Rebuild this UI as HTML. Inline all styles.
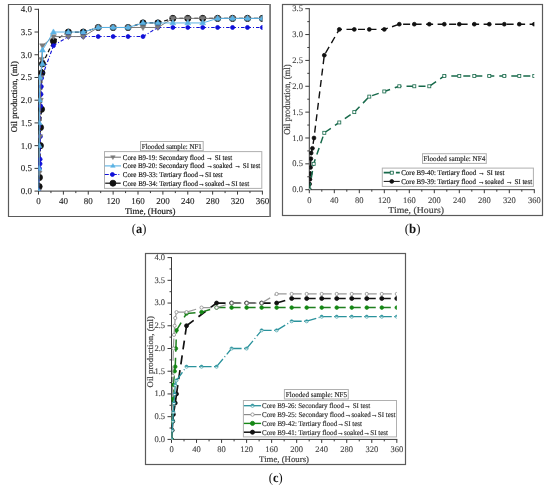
<!DOCTYPE html><html><head><meta charset="utf-8"><style>html,body{margin:0;padding:0;background:#fff;}body{width:550px;height:488px;overflow:hidden;}svg{display:block;font-family:"Liberation Serif", serif;filter:blur(0.3px);}text{text-rendering:geometricPrecision;}</style></head><body>
<svg width="550" height="488" viewBox="0 0 550 488">
<rect x="0" y="0" width="550" height="488" fill="#fff"/>
<path d="M270.1,4.5 H8.5 V216.5 H270.1" fill="none" stroke="#5a5a5a" stroke-width="1.2"/>
<line x1="270.1" y1="4" x2="270.1" y2="217" stroke="#7a7a7a" stroke-width="1.8"/>
<line x1="38.5" y1="8.8" x2="38.5" y2="191.6" stroke="#3a3a3a" stroke-width="1"/>
<line x1="38" y1="191.1" x2="262.9" y2="191.1" stroke="#3a3a3a" stroke-width="1"/>
<line x1="34.5" y1="191.1" x2="38.5" y2="191.1" stroke="#3a3a3a" stroke-width="1"/>
<text x="32.1" y="194" text-anchor="end" font-size="9" fill="#222" stroke="#222" stroke-width="0.1">0.0</text>
<line x1="34.5" y1="168.38" x2="38.5" y2="168.38" stroke="#3a3a3a" stroke-width="1"/>
<text x="32.1" y="171.28" text-anchor="end" font-size="9" fill="#222" stroke="#222" stroke-width="0.1">0.5</text>
<line x1="34.5" y1="145.65" x2="38.5" y2="145.65" stroke="#3a3a3a" stroke-width="1"/>
<text x="32.1" y="148.55" text-anchor="end" font-size="9" fill="#222" stroke="#222" stroke-width="0.1">1.0</text>
<line x1="34.5" y1="122.92" x2="38.5" y2="122.92" stroke="#3a3a3a" stroke-width="1"/>
<text x="32.1" y="125.83" text-anchor="end" font-size="9" fill="#222" stroke="#222" stroke-width="0.1">1.5</text>
<line x1="34.5" y1="100.2" x2="38.5" y2="100.2" stroke="#3a3a3a" stroke-width="1"/>
<text x="32.1" y="103.1" text-anchor="end" font-size="9" fill="#222" stroke="#222" stroke-width="0.1">2.0</text>
<line x1="34.5" y1="77.48" x2="38.5" y2="77.48" stroke="#3a3a3a" stroke-width="1"/>
<text x="32.1" y="80.38" text-anchor="end" font-size="9" fill="#222" stroke="#222" stroke-width="0.1">2.5</text>
<line x1="34.5" y1="54.75" x2="38.5" y2="54.75" stroke="#3a3a3a" stroke-width="1"/>
<text x="32.1" y="57.65" text-anchor="end" font-size="9" fill="#222" stroke="#222" stroke-width="0.1">3.0</text>
<line x1="34.5" y1="32.03" x2="38.5" y2="32.03" stroke="#3a3a3a" stroke-width="1"/>
<text x="32.1" y="34.93" text-anchor="end" font-size="9" fill="#222" stroke="#222" stroke-width="0.1">3.5</text>
<line x1="34.5" y1="9.3" x2="38.5" y2="9.3" stroke="#3a3a3a" stroke-width="1"/>
<text x="32.1" y="12.2" text-anchor="end" font-size="9" fill="#222" stroke="#222" stroke-width="0.1">4.0</text>
<line x1="38.5" y1="191.1" x2="38.5" y2="194.6" stroke="#3a3a3a" stroke-width="1"/>
<text x="38.5" y="203.8" text-anchor="middle" font-size="9" fill="#222" stroke="#222" stroke-width="0.1">0</text>
<line x1="50.94" y1="191.1" x2="50.94" y2="193.1" stroke="#3a3a3a" stroke-width="1"/>
<line x1="63.38" y1="191.1" x2="63.38" y2="194.6" stroke="#3a3a3a" stroke-width="1"/>
<text x="63.38" y="203.8" text-anchor="middle" font-size="9" fill="#222" stroke="#222" stroke-width="0.1">40</text>
<line x1="75.82" y1="191.1" x2="75.82" y2="193.1" stroke="#3a3a3a" stroke-width="1"/>
<line x1="88.26" y1="191.1" x2="88.26" y2="194.6" stroke="#3a3a3a" stroke-width="1"/>
<text x="88.26" y="203.8" text-anchor="middle" font-size="9" fill="#222" stroke="#222" stroke-width="0.1">80</text>
<line x1="100.69" y1="191.1" x2="100.69" y2="193.1" stroke="#3a3a3a" stroke-width="1"/>
<line x1="113.13" y1="191.1" x2="113.13" y2="194.6" stroke="#3a3a3a" stroke-width="1"/>
<text x="113.13" y="203.8" text-anchor="middle" font-size="9" fill="#222" stroke="#222" stroke-width="0.1">120</text>
<line x1="125.57" y1="191.1" x2="125.57" y2="193.1" stroke="#3a3a3a" stroke-width="1"/>
<line x1="138.01" y1="191.1" x2="138.01" y2="194.6" stroke="#3a3a3a" stroke-width="1"/>
<text x="138.01" y="203.8" text-anchor="middle" font-size="9" fill="#222" stroke="#222" stroke-width="0.1">160</text>
<line x1="150.45" y1="191.1" x2="150.45" y2="193.1" stroke="#3a3a3a" stroke-width="1"/>
<line x1="162.89" y1="191.1" x2="162.89" y2="194.6" stroke="#3a3a3a" stroke-width="1"/>
<text x="162.89" y="203.8" text-anchor="middle" font-size="9" fill="#222" stroke="#222" stroke-width="0.1">200</text>
<line x1="175.33" y1="191.1" x2="175.33" y2="193.1" stroke="#3a3a3a" stroke-width="1"/>
<line x1="187.77" y1="191.1" x2="187.77" y2="194.6" stroke="#3a3a3a" stroke-width="1"/>
<text x="187.77" y="203.8" text-anchor="middle" font-size="9" fill="#222" stroke="#222" stroke-width="0.1">240</text>
<line x1="200.21" y1="191.1" x2="200.21" y2="193.1" stroke="#3a3a3a" stroke-width="1"/>
<line x1="212.64" y1="191.1" x2="212.64" y2="194.6" stroke="#3a3a3a" stroke-width="1"/>
<text x="212.64" y="203.8" text-anchor="middle" font-size="9" fill="#222" stroke="#222" stroke-width="0.1">280</text>
<line x1="225.08" y1="191.1" x2="225.08" y2="193.1" stroke="#3a3a3a" stroke-width="1"/>
<line x1="237.52" y1="191.1" x2="237.52" y2="194.6" stroke="#3a3a3a" stroke-width="1"/>
<text x="237.52" y="203.8" text-anchor="middle" font-size="9" fill="#222" stroke="#222" stroke-width="0.1">320</text>
<line x1="249.96" y1="191.1" x2="249.96" y2="193.1" stroke="#3a3a3a" stroke-width="1"/>
<line x1="262.4" y1="191.1" x2="262.4" y2="194.6" stroke="#3a3a3a" stroke-width="1"/>
<text x="262.4" y="203.8" text-anchor="middle" font-size="9" fill="#222" stroke="#222" stroke-width="0.1">360</text>
<text x="16.9" y="96.7" text-anchor="middle" font-size="8.8" fill="#222" stroke="#222" stroke-width="0.2" textLength="71.1" lengthAdjust="spacingAndGlyphs" transform="rotate(-90 16.9 96.7)">Oil production, (ml)</text>
<text x="125" y="213.9" font-size="8.8" fill="#222" stroke="#222" stroke-width="0.2" textLength="50.4" lengthAdjust="spacingAndGlyphs">Time, (Hours)</text>
<clipPath id="ca"><rect x="38.5" y="3.3" width="223.9" height="187.8"/></clipPath>
<g clip-path="url(#ca)">
<path d="M39.12,186.56L39.43,177.47M39.43,177.47L40.37,145.65M40.37,145.65L40.49,127.47M40.49,127.47L41.49,109.29M41.49,109.29L41.92,72.93M41.92,72.93L42.48,63.84M42.48,63.84L53.43,41.12M53.43,41.12L68.35,32.03M68.35,32.03L83.28,32.03M83.28,32.03L98.21,27.48M98.21,27.48L113.13,27.48M113.13,27.48L128.06,27.48M128.06,27.48L142.99,22.94M142.99,22.94L157.91,22.94M157.91,22.94L172.84,18.39M172.84,18.39L187.77,18.39M187.77,18.39L202.69,18.39M202.69,18.39L217.62,18.39M217.62,18.39L232.55,18.39M232.55,18.39L247.47,18.39M247.47,18.39L262.4,18.39" fill="none" stroke="#111" stroke-width="1.2" stroke-dasharray="4,2.5"/>
<circle cx="39.12" cy="186.56" r="3.1" fill="#111" stroke="#111" stroke-width="0.8"/>
<circle cx="39.43" cy="177.47" r="3.1" fill="#111" stroke="#111" stroke-width="0.8"/>
<circle cx="40.37" cy="145.65" r="3.1" fill="#111" stroke="#111" stroke-width="0.8"/>
<circle cx="40.49" cy="127.47" r="3.1" fill="#111" stroke="#111" stroke-width="0.8"/>
<circle cx="41.49" cy="109.29" r="3.1" fill="#111" stroke="#111" stroke-width="0.8"/>
<circle cx="41.92" cy="72.93" r="3.1" fill="#111" stroke="#111" stroke-width="0.8"/>
<circle cx="42.48" cy="63.84" r="3.1" fill="#111" stroke="#111" stroke-width="0.8"/>
<circle cx="53.43" cy="41.12" r="3.1" fill="#111" stroke="#111" stroke-width="0.8"/>
<circle cx="68.35" cy="32.03" r="3.1" fill="#111" stroke="#111" stroke-width="0.8"/>
<circle cx="83.28" cy="32.03" r="3.1" fill="#111" stroke="#111" stroke-width="0.8"/>
<circle cx="98.21" cy="27.48" r="3.1" fill="#111" stroke="#111" stroke-width="0.8"/>
<circle cx="113.13" cy="27.48" r="3.1" fill="#111" stroke="#111" stroke-width="0.8"/>
<circle cx="128.06" cy="27.48" r="3.1" fill="#111" stroke="#111" stroke-width="0.8"/>
<circle cx="142.99" cy="22.94" r="3.1" fill="#111" stroke="#111" stroke-width="0.8"/>
<circle cx="157.91" cy="22.94" r="3.1" fill="#111" stroke="#111" stroke-width="0.8"/>
<circle cx="172.84" cy="18.39" r="3.1" fill="#111" stroke="#111" stroke-width="0.8"/>
<circle cx="187.77" cy="18.39" r="3.1" fill="#111" stroke="#111" stroke-width="0.8"/>
<circle cx="202.69" cy="18.39" r="3.1" fill="#111" stroke="#111" stroke-width="0.8"/>
<circle cx="217.62" cy="18.39" r="3.1" fill="#111" stroke="#111" stroke-width="0.8"/>
<circle cx="232.55" cy="18.39" r="3.1" fill="#111" stroke="#111" stroke-width="0.8"/>
<circle cx="247.47" cy="18.39" r="3.1" fill="#111" stroke="#111" stroke-width="0.8"/>
<circle cx="262.4" cy="18.39" r="3.1" fill="#111" stroke="#111" stroke-width="0.8"/>
<path d="M38.81,191.1L39.43,168.38M39.43,168.38L40.05,163.83M40.05,163.83L40.12,159.28M40.12,159.28L40.37,136.56M40.37,136.56L40.68,106.11M40.68,106.11L40.99,94.29M40.99,94.29L41.3,86.57M41.3,86.57L41.61,77.93M41.61,77.93L53.43,45.66M53.43,45.66L68.35,36.57M68.35,36.57L83.28,36.57M83.28,36.57L98.21,36.57M98.21,36.57L113.13,36.57M113.13,36.57L128.06,36.57M128.06,36.57L142.99,36.57M142.99,36.57L157.91,27.48M157.91,27.48L172.84,27.48M172.84,27.48L187.77,27.48M187.77,27.48L202.69,27.48M202.69,27.48L217.62,27.48M217.62,27.48L232.55,27.48M232.55,27.48L247.47,27.48M247.47,27.48L262.4,27.48" fill="none" stroke="#1010d8" stroke-width="1.1" stroke-dasharray="3.5,2,1,2"/>
<circle cx="38.81" cy="191.1" r="2" fill="#1010d8" stroke="#1010d8" stroke-width="0.8"/>
<circle cx="39.43" cy="168.38" r="2" fill="#1010d8" stroke="#1010d8" stroke-width="0.8"/>
<circle cx="40.05" cy="163.83" r="2" fill="#1010d8" stroke="#1010d8" stroke-width="0.8"/>
<circle cx="40.12" cy="159.28" r="2" fill="#1010d8" stroke="#1010d8" stroke-width="0.8"/>
<circle cx="40.37" cy="136.56" r="2" fill="#1010d8" stroke="#1010d8" stroke-width="0.8"/>
<circle cx="40.68" cy="106.11" r="2" fill="#1010d8" stroke="#1010d8" stroke-width="0.8"/>
<circle cx="40.99" cy="94.29" r="2" fill="#1010d8" stroke="#1010d8" stroke-width="0.8"/>
<circle cx="41.3" cy="86.57" r="2" fill="#1010d8" stroke="#1010d8" stroke-width="0.8"/>
<circle cx="41.61" cy="77.93" r="2" fill="#1010d8" stroke="#1010d8" stroke-width="0.8"/>
<circle cx="53.43" cy="45.66" r="2" fill="#1010d8" stroke="#1010d8" stroke-width="0.8"/>
<circle cx="68.35" cy="36.57" r="2" fill="#1010d8" stroke="#1010d8" stroke-width="0.8"/>
<circle cx="83.28" cy="36.57" r="2" fill="#1010d8" stroke="#1010d8" stroke-width="0.8"/>
<circle cx="98.21" cy="36.57" r="2" fill="#1010d8" stroke="#1010d8" stroke-width="0.8"/>
<circle cx="113.13" cy="36.57" r="2" fill="#1010d8" stroke="#1010d8" stroke-width="0.8"/>
<circle cx="128.06" cy="36.57" r="2" fill="#1010d8" stroke="#1010d8" stroke-width="0.8"/>
<circle cx="142.99" cy="36.57" r="2" fill="#1010d8" stroke="#1010d8" stroke-width="0.8"/>
<circle cx="157.91" cy="27.48" r="2" fill="#1010d8" stroke="#1010d8" stroke-width="0.8"/>
<circle cx="172.84" cy="27.48" r="2" fill="#1010d8" stroke="#1010d8" stroke-width="0.8"/>
<circle cx="187.77" cy="27.48" r="2" fill="#1010d8" stroke="#1010d8" stroke-width="0.8"/>
<circle cx="202.69" cy="27.48" r="2" fill="#1010d8" stroke="#1010d8" stroke-width="0.8"/>
<circle cx="217.62" cy="27.48" r="2" fill="#1010d8" stroke="#1010d8" stroke-width="0.8"/>
<circle cx="232.55" cy="27.48" r="2" fill="#1010d8" stroke="#1010d8" stroke-width="0.8"/>
<circle cx="247.47" cy="27.48" r="2" fill="#1010d8" stroke="#1010d8" stroke-width="0.8"/>
<circle cx="262.4" cy="27.48" r="2" fill="#1010d8" stroke="#1010d8" stroke-width="0.8"/>
<polyline points="38.5,191.1 39.12,172.92 39.74,136.56 40.37,100.2 40.99,77.48 41.61,59.3 42.48,45.66 53.43,36.57 68.35,36.57 83.28,36.57 98.21,27.48 113.13,27.48 128.06,27.48 142.99,27.48 157.91,27.48 172.84,18.39 187.77,18.39 202.69,18.39 217.62,18.39 232.55,18.39 247.47,18.39 262.4,18.39" fill="none" stroke="#7a7a7a" stroke-width="1.0" stroke-linejoin="round"/>
<polygon points="38.5,194.2 35.55,189.24 41.45,189.24" fill="#7a7a7a" stroke="#7a7a7a" stroke-width="0.5"/>
<polygon points="39.12,176.02 36.18,171.06 42.07,171.06" fill="#7a7a7a" stroke="#7a7a7a" stroke-width="0.5"/>
<polygon points="39.74,139.66 36.8,134.7 42.69,134.7" fill="#7a7a7a" stroke="#7a7a7a" stroke-width="0.5"/>
<polygon points="40.37,103.3 37.42,98.34 43.31,98.34" fill="#7a7a7a" stroke="#7a7a7a" stroke-width="0.5"/>
<polygon points="40.99,80.58 38.04,75.62 43.93,75.62" fill="#7a7a7a" stroke="#7a7a7a" stroke-width="0.5"/>
<polygon points="41.61,62.4 38.66,57.44 44.55,57.44" fill="#7a7a7a" stroke="#7a7a7a" stroke-width="0.5"/>
<polygon points="42.48,48.76 39.54,43.8 45.43,43.8" fill="#7a7a7a" stroke="#7a7a7a" stroke-width="0.5"/>
<polygon points="53.43,39.67 50.48,34.71 56.37,34.71" fill="#7a7a7a" stroke="#7a7a7a" stroke-width="0.5"/>
<polygon points="68.35,39.67 65.41,34.71 71.3,34.71" fill="#7a7a7a" stroke="#7a7a7a" stroke-width="0.5"/>
<polygon points="83.28,39.67 80.34,34.71 86.22,34.71" fill="#7a7a7a" stroke="#7a7a7a" stroke-width="0.5"/>
<polygon points="98.21,30.58 95.26,25.62 101.15,25.62" fill="#7a7a7a" stroke="#7a7a7a" stroke-width="0.5"/>
<polygon points="113.13,30.58 110.19,25.62 116.08,25.62" fill="#7a7a7a" stroke="#7a7a7a" stroke-width="0.5"/>
<polygon points="128.06,30.58 125.12,25.62 131,25.62" fill="#7a7a7a" stroke="#7a7a7a" stroke-width="0.5"/>
<polygon points="142.99,30.58 140.04,25.62 145.93,25.62" fill="#7a7a7a" stroke="#7a7a7a" stroke-width="0.5"/>
<polygon points="157.91,30.58 154.97,25.62 160.86,25.62" fill="#7a7a7a" stroke="#7a7a7a" stroke-width="0.5"/>
<polygon points="172.84,21.49 169.89,16.53 175.78,16.53" fill="#7a7a7a" stroke="#7a7a7a" stroke-width="0.5"/>
<polygon points="187.77,21.49 184.82,16.53 190.71,16.53" fill="#7a7a7a" stroke="#7a7a7a" stroke-width="0.5"/>
<polygon points="202.69,21.49 199.75,16.53 205.64,16.53" fill="#7a7a7a" stroke="#7a7a7a" stroke-width="0.5"/>
<polygon points="217.62,21.49 214.68,16.53 220.56,16.53" fill="#7a7a7a" stroke="#7a7a7a" stroke-width="0.5"/>
<polygon points="232.55,21.49 229.6,16.53 235.49,16.53" fill="#7a7a7a" stroke="#7a7a7a" stroke-width="0.5"/>
<polygon points="247.47,21.49 244.53,16.53 250.42,16.53" fill="#7a7a7a" stroke="#7a7a7a" stroke-width="0.5"/>
<polygon points="262.4,21.49 259.45,16.53 265.34,16.53" fill="#7a7a7a" stroke="#7a7a7a" stroke-width="0.5"/>
<polyline points="38.5,191.1 39,168.38 39.12,145.65 39.25,122.92 39.43,100.2 39.87,77.48 42.48,63.84 42.48,50.21 53.43,32.03 68.35,32.03 83.28,32.03 98.21,27.48 113.13,27.48 128.06,27.48 142.99,22.94 157.91,22.94 172.84,22.94 187.77,22.94 202.69,22.94 217.62,18.39 232.55,18.39 247.47,18.39 262.4,18.39" fill="none" stroke="#5ab2e4" stroke-width="1.0" stroke-linejoin="round"/>
<polygon points="38.5,188 35.55,192.96 41.45,192.96" fill="#5ab2e4" stroke="#5ab2e4" stroke-width="0.5"/>
<polygon points="39,165.28 36.05,170.24 41.94,170.24" fill="#5ab2e4" stroke="#5ab2e4" stroke-width="0.5"/>
<polygon points="39.12,142.55 36.18,147.51 42.07,147.51" fill="#5ab2e4" stroke="#5ab2e4" stroke-width="0.5"/>
<polygon points="39.25,119.83 36.3,124.78 42.19,124.78" fill="#5ab2e4" stroke="#5ab2e4" stroke-width="0.5"/>
<polygon points="39.43,97.1 36.49,102.06 42.38,102.06" fill="#5ab2e4" stroke="#5ab2e4" stroke-width="0.5"/>
<polygon points="39.87,74.38 36.92,79.34 42.81,79.34" fill="#5ab2e4" stroke="#5ab2e4" stroke-width="0.5"/>
<polygon points="42.48,60.74 39.54,65.7 45.43,65.7" fill="#5ab2e4" stroke="#5ab2e4" stroke-width="0.5"/>
<polygon points="42.48,47.11 39.54,52.07 45.43,52.07" fill="#5ab2e4" stroke="#5ab2e4" stroke-width="0.5"/>
<polygon points="53.43,28.93 50.48,33.89 56.37,33.89" fill="#5ab2e4" stroke="#5ab2e4" stroke-width="0.5"/>
<polygon points="68.35,28.93 65.41,33.89 71.3,33.89" fill="#5ab2e4" stroke="#5ab2e4" stroke-width="0.5"/>
<polygon points="83.28,28.93 80.34,33.89 86.22,33.89" fill="#5ab2e4" stroke="#5ab2e4" stroke-width="0.5"/>
<polygon points="98.21,24.38 95.26,29.34 101.15,29.34" fill="#5ab2e4" stroke="#5ab2e4" stroke-width="0.5"/>
<polygon points="113.13,24.38 110.19,29.34 116.08,29.34" fill="#5ab2e4" stroke="#5ab2e4" stroke-width="0.5"/>
<polygon points="128.06,24.38 125.12,29.34 131,29.34" fill="#5ab2e4" stroke="#5ab2e4" stroke-width="0.5"/>
<polygon points="142.99,19.84 140.04,24.8 145.93,24.8" fill="#5ab2e4" stroke="#5ab2e4" stroke-width="0.5"/>
<polygon points="157.91,19.84 154.97,24.8 160.86,24.8" fill="#5ab2e4" stroke="#5ab2e4" stroke-width="0.5"/>
<polygon points="172.84,19.84 169.89,24.8 175.78,24.8" fill="#5ab2e4" stroke="#5ab2e4" stroke-width="0.5"/>
<polygon points="187.77,19.84 184.82,24.8 190.71,24.8" fill="#5ab2e4" stroke="#5ab2e4" stroke-width="0.5"/>
<polygon points="202.69,19.84 199.75,24.8 205.64,24.8" fill="#5ab2e4" stroke="#5ab2e4" stroke-width="0.5"/>
<polygon points="217.62,15.29 214.68,20.25 220.56,20.25" fill="#5ab2e4" stroke="#5ab2e4" stroke-width="0.5"/>
<polygon points="232.55,15.29 229.6,20.25 235.49,20.25" fill="#5ab2e4" stroke="#5ab2e4" stroke-width="0.5"/>
<polygon points="247.47,15.29 244.53,20.25 250.42,20.25" fill="#5ab2e4" stroke="#5ab2e4" stroke-width="0.5"/>
<polygon points="262.4,15.29 259.45,20.25 265.34,20.25" fill="#5ab2e4" stroke="#5ab2e4" stroke-width="0.5"/>
</g>
<rect x="140.5" y="141.5" width="62.7" height="9.2" fill="#fff" stroke="#b0b0b0" stroke-width="1"/>
<text x="141.8" y="148.6" font-size="7.4" fill="#222" stroke="#222" stroke-width="0.15" textLength="60" lengthAdjust="spacingAndGlyphs">Flooded sample: NF1</text>
<rect x="104.5" y="151.6" width="157.3" height="36.8" fill="#fff" stroke="#b0b0b0" stroke-width="1"/>
<line x1="104.8" y1="157.2" x2="121" y2="157.2" stroke="#7a7a7a" stroke-width="1.1"/>
<polygon points="112.9,159.6 110.62,155.76 115.18,155.76" fill="#7a7a7a" stroke="#7a7a7a" stroke-width="0.5"/>
<text x="122.8" y="159.5" font-size="7.3" fill="#222" stroke="#222" stroke-width="0.18" textLength="109.4" lengthAdjust="spacingAndGlyphs">Core B9-19: Secondary flood → SI test</text>
<line x1="104.8" y1="165.9" x2="121" y2="165.9" stroke="#5ab2e4" stroke-width="1.1"/>
<polygon points="112.9,163.5 110.62,167.34 115.18,167.34" fill="#5ab2e4" stroke="#5ab2e4" stroke-width="0.5"/>
<text x="122.8" y="168.2" font-size="7.3" fill="#222" stroke="#222" stroke-width="0.18" textLength="137.5" lengthAdjust="spacingAndGlyphs">Core B9-20: Secondary flood →soaked → SI test</text>
<line x1="104.8" y1="174.5" x2="120" y2="174.5" stroke="#1010d8" stroke-width="1.1" stroke-dasharray="4,1.5,1,1.5"/>
<circle cx="112.4" cy="174.5" r="2" fill="#1010d8" stroke="#1010d8" stroke-width="0.8"/>
<text x="122.8" y="176.8" font-size="7.3" fill="#222" stroke="#222" stroke-width="0.18" textLength="100" lengthAdjust="spacingAndGlyphs">Core B9-33: Tertiary flood→SI test</text>
<line x1="105.2" y1="183.2" x2="120.7" y2="183.2" stroke="#111" stroke-width="1.2"/>
<circle cx="112.95" cy="183.2" r="3" fill="#111" stroke="#111" stroke-width="0.8"/>
<text x="122.8" y="185.5" font-size="7.3" fill="#222" stroke="#222" stroke-width="0.18" textLength="126.3" lengthAdjust="spacingAndGlyphs">Core B9-34: Tertiary flood→soaked→SI test</text>
<text x="131.8" y="232.8" font-size="13.5" fill="#111" textLength="14.5" lengthAdjust="spacingAndGlyphs">(<tspan font-weight="bold">a</tspan>)</text>
<rect x="282.5" y="4.5" width="260" height="211" fill="none" stroke="#5a5a5a" stroke-width="1.2"/>
<line x1="309.3" y1="8.2" x2="309.3" y2="190.2" stroke="#3a3a3a" stroke-width="1"/>
<line x1="308.8" y1="189.7" x2="534.8" y2="189.7" stroke="#3a3a3a" stroke-width="1"/>
<line x1="305.3" y1="189.7" x2="309.3" y2="189.7" stroke="#3a3a3a" stroke-width="1"/>
<text x="302.9" y="192.3" text-anchor="end" font-size="8.5" fill="#444" stroke="#444" stroke-width="0.12">0.0</text>
<line x1="307.3" y1="176.77" x2="309.3" y2="176.77" stroke="#3a3a3a" stroke-width="1"/>
<line x1="305.3" y1="163.84" x2="309.3" y2="163.84" stroke="#3a3a3a" stroke-width="1"/>
<text x="302.9" y="166.44" text-anchor="end" font-size="8.5" fill="#444" stroke="#444" stroke-width="0.12">0.5</text>
<line x1="307.3" y1="150.91" x2="309.3" y2="150.91" stroke="#3a3a3a" stroke-width="1"/>
<line x1="305.3" y1="137.99" x2="309.3" y2="137.99" stroke="#3a3a3a" stroke-width="1"/>
<text x="302.9" y="140.59" text-anchor="end" font-size="8.5" fill="#444" stroke="#444" stroke-width="0.12">1.0</text>
<line x1="307.3" y1="125.06" x2="309.3" y2="125.06" stroke="#3a3a3a" stroke-width="1"/>
<line x1="305.3" y1="112.13" x2="309.3" y2="112.13" stroke="#3a3a3a" stroke-width="1"/>
<text x="302.9" y="114.73" text-anchor="end" font-size="8.5" fill="#444" stroke="#444" stroke-width="0.12">1.5</text>
<line x1="307.3" y1="99.2" x2="309.3" y2="99.2" stroke="#3a3a3a" stroke-width="1"/>
<line x1="305.3" y1="86.27" x2="309.3" y2="86.27" stroke="#3a3a3a" stroke-width="1"/>
<text x="302.9" y="88.87" text-anchor="end" font-size="8.5" fill="#444" stroke="#444" stroke-width="0.12">2.0</text>
<line x1="307.3" y1="73.34" x2="309.3" y2="73.34" stroke="#3a3a3a" stroke-width="1"/>
<line x1="305.3" y1="60.41" x2="309.3" y2="60.41" stroke="#3a3a3a" stroke-width="1"/>
<text x="302.9" y="63.01" text-anchor="end" font-size="8.5" fill="#444" stroke="#444" stroke-width="0.12">2.5</text>
<line x1="307.3" y1="47.49" x2="309.3" y2="47.49" stroke="#3a3a3a" stroke-width="1"/>
<line x1="305.3" y1="34.56" x2="309.3" y2="34.56" stroke="#3a3a3a" stroke-width="1"/>
<text x="302.9" y="37.16" text-anchor="end" font-size="8.5" fill="#444" stroke="#444" stroke-width="0.12">3.0</text>
<line x1="307.3" y1="21.63" x2="309.3" y2="21.63" stroke="#3a3a3a" stroke-width="1"/>
<line x1="305.3" y1="8.7" x2="309.3" y2="8.7" stroke="#3a3a3a" stroke-width="1"/>
<text x="302.9" y="11.3" text-anchor="end" font-size="8.5" fill="#444" stroke="#444" stroke-width="0.12">3.5</text>
<line x1="309.3" y1="189.7" x2="309.3" y2="193.2" stroke="#3a3a3a" stroke-width="1"/>
<text x="309.3" y="202.6" text-anchor="middle" font-size="8.5" fill="#444" stroke="#444" stroke-width="0.12">0</text>
<line x1="321.8" y1="189.7" x2="321.8" y2="191.7" stroke="#3a3a3a" stroke-width="1"/>
<line x1="334.3" y1="189.7" x2="334.3" y2="193.2" stroke="#3a3a3a" stroke-width="1"/>
<text x="334.3" y="202.6" text-anchor="middle" font-size="8.5" fill="#444" stroke="#444" stroke-width="0.12">40</text>
<line x1="346.8" y1="189.7" x2="346.8" y2="191.7" stroke="#3a3a3a" stroke-width="1"/>
<line x1="359.3" y1="189.7" x2="359.3" y2="193.2" stroke="#3a3a3a" stroke-width="1"/>
<text x="359.3" y="202.6" text-anchor="middle" font-size="8.5" fill="#444" stroke="#444" stroke-width="0.12">80</text>
<line x1="371.8" y1="189.7" x2="371.8" y2="191.7" stroke="#3a3a3a" stroke-width="1"/>
<line x1="384.3" y1="189.7" x2="384.3" y2="193.2" stroke="#3a3a3a" stroke-width="1"/>
<text x="384.3" y="202.6" text-anchor="middle" font-size="8.5" fill="#444" stroke="#444" stroke-width="0.12">120</text>
<line x1="396.8" y1="189.7" x2="396.8" y2="191.7" stroke="#3a3a3a" stroke-width="1"/>
<line x1="409.3" y1="189.7" x2="409.3" y2="193.2" stroke="#3a3a3a" stroke-width="1"/>
<text x="409.3" y="202.6" text-anchor="middle" font-size="8.5" fill="#444" stroke="#444" stroke-width="0.12">160</text>
<line x1="421.8" y1="189.7" x2="421.8" y2="191.7" stroke="#3a3a3a" stroke-width="1"/>
<line x1="434.3" y1="189.7" x2="434.3" y2="193.2" stroke="#3a3a3a" stroke-width="1"/>
<text x="434.3" y="202.6" text-anchor="middle" font-size="8.5" fill="#444" stroke="#444" stroke-width="0.12">200</text>
<line x1="446.8" y1="189.7" x2="446.8" y2="191.7" stroke="#3a3a3a" stroke-width="1"/>
<line x1="459.3" y1="189.7" x2="459.3" y2="193.2" stroke="#3a3a3a" stroke-width="1"/>
<text x="459.3" y="202.6" text-anchor="middle" font-size="8.5" fill="#444" stroke="#444" stroke-width="0.12">240</text>
<line x1="471.8" y1="189.7" x2="471.8" y2="191.7" stroke="#3a3a3a" stroke-width="1"/>
<line x1="484.3" y1="189.7" x2="484.3" y2="193.2" stroke="#3a3a3a" stroke-width="1"/>
<text x="484.3" y="202.6" text-anchor="middle" font-size="8.5" fill="#444" stroke="#444" stroke-width="0.12">280</text>
<line x1="496.8" y1="189.7" x2="496.8" y2="191.7" stroke="#3a3a3a" stroke-width="1"/>
<line x1="509.3" y1="189.7" x2="509.3" y2="193.2" stroke="#3a3a3a" stroke-width="1"/>
<text x="509.3" y="202.6" text-anchor="middle" font-size="8.5" fill="#444" stroke="#444" stroke-width="0.12">320</text>
<line x1="521.8" y1="189.7" x2="521.8" y2="191.7" stroke="#3a3a3a" stroke-width="1"/>
<line x1="534.3" y1="189.7" x2="534.3" y2="193.2" stroke="#3a3a3a" stroke-width="1"/>
<text x="534.3" y="202.6" text-anchor="middle" font-size="8.5" fill="#444" stroke="#444" stroke-width="0.12">360</text>
<text x="289.8" y="99.5" text-anchor="middle" font-size="9.2" fill="#444" stroke="#444" stroke-width="0.2" textLength="70.4" lengthAdjust="spacingAndGlyphs" transform="rotate(-90 289.8 99.5)">Oil production, (ml)</text>
<text x="388.3" y="212.7" font-size="9.2" fill="#444" stroke="#444" stroke-width="0.2" textLength="55.7" lengthAdjust="spacingAndGlyphs">Time, (Hours)</text>
<clipPath id="cb"><rect x="309.3" y="2.7" width="225" height="187"/></clipPath>
<g clip-path="url(#cb)">
<polyline points="309.3,189.7 309.61,184.01 309.93,179.36 310.24,173.67 310.55,167.46 310.86,158.67 311.18,152.98 312.43,148.33 313.99,137.99 324.3,55.24 339.3,29.39 354.3,29.39 369.3,29.39 384.3,29.39 399.3,24.21 414.3,24.21 429.3,24.21 444.3,24.21 459.3,24.21 474.3,24.21 489.3,24.21 504.3,24.21 519.3,24.21 534.3,24.21" fill="none" stroke="#111" stroke-width="1.4" stroke-dasharray="7,4.5" stroke-linejoin="round"/>
<circle cx="309.3" cy="189.7" r="1.9" fill="#111" stroke="#111" stroke-width="0.8"/>
<circle cx="309.61" cy="184.01" r="1.9" fill="#111" stroke="#111" stroke-width="0.8"/>
<circle cx="309.93" cy="179.36" r="1.9" fill="#111" stroke="#111" stroke-width="0.8"/>
<circle cx="310.24" cy="173.67" r="1.9" fill="#111" stroke="#111" stroke-width="0.8"/>
<circle cx="310.55" cy="167.46" r="1.9" fill="#111" stroke="#111" stroke-width="0.8"/>
<circle cx="310.86" cy="158.67" r="1.9" fill="#111" stroke="#111" stroke-width="0.8"/>
<circle cx="311.18" cy="152.98" r="1.9" fill="#111" stroke="#111" stroke-width="0.8"/>
<circle cx="312.43" cy="148.33" r="1.9" fill="#111" stroke="#111" stroke-width="0.8"/>
<circle cx="313.99" cy="137.99" r="1.9" fill="#111" stroke="#111" stroke-width="0.8"/>
<circle cx="324.3" cy="55.24" r="1.9" fill="#111" stroke="#111" stroke-width="0.8"/>
<circle cx="339.3" cy="29.39" r="1.9" fill="#111" stroke="#111" stroke-width="0.8"/>
<circle cx="354.3" cy="29.39" r="1.9" fill="#111" stroke="#111" stroke-width="0.8"/>
<circle cx="369.3" cy="29.39" r="1.9" fill="#111" stroke="#111" stroke-width="0.8"/>
<circle cx="384.3" cy="29.39" r="1.9" fill="#111" stroke="#111" stroke-width="0.8"/>
<circle cx="399.3" cy="24.21" r="1.9" fill="#111" stroke="#111" stroke-width="0.8"/>
<circle cx="414.3" cy="24.21" r="1.9" fill="#111" stroke="#111" stroke-width="0.8"/>
<circle cx="429.3" cy="24.21" r="1.9" fill="#111" stroke="#111" stroke-width="0.8"/>
<circle cx="444.3" cy="24.21" r="1.9" fill="#111" stroke="#111" stroke-width="0.8"/>
<circle cx="459.3" cy="24.21" r="1.9" fill="#111" stroke="#111" stroke-width="0.8"/>
<circle cx="474.3" cy="24.21" r="1.9" fill="#111" stroke="#111" stroke-width="0.8"/>
<circle cx="489.3" cy="24.21" r="1.9" fill="#111" stroke="#111" stroke-width="0.8"/>
<circle cx="504.3" cy="24.21" r="1.9" fill="#111" stroke="#111" stroke-width="0.8"/>
<circle cx="519.3" cy="24.21" r="1.9" fill="#111" stroke="#111" stroke-width="0.8"/>
<circle cx="534.3" cy="24.21" r="1.9" fill="#111" stroke="#111" stroke-width="0.8"/>
<polyline points="309.3,189.7 313.68,163.84 324.3,132.81 339.3,122.47 354.3,112.13 369.3,96.61 384.3,91.44 399.3,86.27 414.3,86.27 429.3,86.27 444.3,75.93 459.3,75.93 474.3,75.93 489.3,75.93 504.3,75.93 519.3,75.93 534.3,75.93" fill="none" stroke="#17694a" stroke-width="1.5" stroke-dasharray="7,5" stroke-linejoin="round"/>
<rect x="307.8" y="188.2" width="3" height="3" fill="#fff" stroke="#17694a" stroke-width="0.8"/>
<rect x="312.18" y="162.34" width="3" height="3" fill="#fff" stroke="#17694a" stroke-width="0.8"/>
<rect x="322.8" y="131.31" width="3" height="3" fill="#fff" stroke="#17694a" stroke-width="0.8"/>
<rect x="337.8" y="120.97" width="3" height="3" fill="#fff" stroke="#17694a" stroke-width="0.8"/>
<rect x="352.8" y="110.63" width="3" height="3" fill="#fff" stroke="#17694a" stroke-width="0.8"/>
<rect x="367.8" y="95.11" width="3" height="3" fill="#fff" stroke="#17694a" stroke-width="0.8"/>
<rect x="382.8" y="89.94" width="3" height="3" fill="#fff" stroke="#17694a" stroke-width="0.8"/>
<rect x="397.8" y="84.77" width="3" height="3" fill="#fff" stroke="#17694a" stroke-width="0.8"/>
<rect x="412.8" y="84.77" width="3" height="3" fill="#fff" stroke="#17694a" stroke-width="0.8"/>
<rect x="427.8" y="84.77" width="3" height="3" fill="#fff" stroke="#17694a" stroke-width="0.8"/>
<rect x="442.8" y="74.43" width="3" height="3" fill="#fff" stroke="#17694a" stroke-width="0.8"/>
<rect x="457.8" y="74.43" width="3" height="3" fill="#fff" stroke="#17694a" stroke-width="0.8"/>
<rect x="472.8" y="74.43" width="3" height="3" fill="#fff" stroke="#17694a" stroke-width="0.8"/>
<rect x="487.8" y="74.43" width="3" height="3" fill="#fff" stroke="#17694a" stroke-width="0.8"/>
<rect x="502.8" y="74.43" width="3" height="3" fill="#fff" stroke="#17694a" stroke-width="0.8"/>
<rect x="517.8" y="74.43" width="3" height="3" fill="#fff" stroke="#17694a" stroke-width="0.8"/>
<rect x="532.8" y="74.43" width="3" height="3" fill="#fff" stroke="#17694a" stroke-width="0.8"/>
</g>
<rect x="422.5" y="153.7" width="63.8" height="9.7" fill="#fff" stroke="#b0b0b0" stroke-width="1"/>
<text x="423.6" y="160.9" font-size="7.4" fill="#222" stroke="#222" stroke-width="0.15" textLength="61.7" lengthAdjust="spacingAndGlyphs">Flooded sample: NF4</text>
<rect x="382.3" y="168.1" width="151.1" height="18.3" fill="#fff" stroke="#b0b0b0" stroke-width="1"/>
<line x1="383.7" y1="172.7" x2="399.8" y2="172.7" stroke="#17694a" stroke-width="1.8" stroke-dasharray="10,2.2,4,1"/>
<rect x="390.25" y="171.2" width="3" height="3" fill="#fff" stroke="#17694a" stroke-width="0.8"/>
<text x="401.2" y="175" font-size="7.3" fill="#222" stroke="#222" stroke-width="0.18" textLength="103.2" lengthAdjust="spacingAndGlyphs">Core B9-40: Tertiary flood → SI test</text>
<line x1="383.7" y1="181.4" x2="399.8" y2="181.4" stroke="#111" stroke-width="1.0"/>
<circle cx="391.75" cy="181.4" r="1.9" fill="#111" stroke="#111" stroke-width="0.8"/>
<text x="401.2" y="183.7" font-size="7.3" fill="#222" stroke="#222" stroke-width="0.18" textLength="130.9" lengthAdjust="spacingAndGlyphs">Core B9-39: Tertiary flood →soaked → SI test</text>
<text x="404.8" y="233" font-size="13.5" fill="#111" textLength="15.7" lengthAdjust="spacingAndGlyphs">(<tspan font-weight="bold">b</tspan>)</text>
<rect x="145.5" y="253.5" width="260" height="211" fill="none" stroke="#5a5a5a" stroke-width="1.2"/>
<line x1="171.5" y1="257.1" x2="171.5" y2="439.9" stroke="#3a3a3a" stroke-width="1"/>
<line x1="171" y1="439.4" x2="397.3" y2="439.4" stroke="#3a3a3a" stroke-width="1"/>
<line x1="167.5" y1="439.4" x2="171.5" y2="439.4" stroke="#3a3a3a" stroke-width="1"/>
<text x="165" y="441.8" text-anchor="end" font-size="8.5" fill="#444" stroke="#444" stroke-width="0.12">0.0</text>
<line x1="169.5" y1="428.04" x2="171.5" y2="428.04" stroke="#3a3a3a" stroke-width="1"/>
<line x1="167.5" y1="416.67" x2="171.5" y2="416.67" stroke="#3a3a3a" stroke-width="1"/>
<text x="165" y="419.07" text-anchor="end" font-size="8.5" fill="#444" stroke="#444" stroke-width="0.12">0.5</text>
<line x1="169.5" y1="405.31" x2="171.5" y2="405.31" stroke="#3a3a3a" stroke-width="1"/>
<line x1="167.5" y1="393.95" x2="171.5" y2="393.95" stroke="#3a3a3a" stroke-width="1"/>
<text x="165" y="396.35" text-anchor="end" font-size="8.5" fill="#444" stroke="#444" stroke-width="0.12">1.0</text>
<line x1="169.5" y1="382.59" x2="171.5" y2="382.59" stroke="#3a3a3a" stroke-width="1"/>
<line x1="167.5" y1="371.23" x2="171.5" y2="371.23" stroke="#3a3a3a" stroke-width="1"/>
<text x="165" y="373.62" text-anchor="end" font-size="8.5" fill="#444" stroke="#444" stroke-width="0.12">1.5</text>
<line x1="169.5" y1="359.86" x2="171.5" y2="359.86" stroke="#3a3a3a" stroke-width="1"/>
<line x1="167.5" y1="348.5" x2="171.5" y2="348.5" stroke="#3a3a3a" stroke-width="1"/>
<text x="165" y="350.9" text-anchor="end" font-size="8.5" fill="#444" stroke="#444" stroke-width="0.12">2.0</text>
<line x1="169.5" y1="337.14" x2="171.5" y2="337.14" stroke="#3a3a3a" stroke-width="1"/>
<line x1="167.5" y1="325.77" x2="171.5" y2="325.77" stroke="#3a3a3a" stroke-width="1"/>
<text x="165" y="328.17" text-anchor="end" font-size="8.5" fill="#444" stroke="#444" stroke-width="0.12">2.5</text>
<line x1="169.5" y1="314.41" x2="171.5" y2="314.41" stroke="#3a3a3a" stroke-width="1"/>
<line x1="167.5" y1="303.05" x2="171.5" y2="303.05" stroke="#3a3a3a" stroke-width="1"/>
<text x="165" y="305.45" text-anchor="end" font-size="8.5" fill="#444" stroke="#444" stroke-width="0.12">3.0</text>
<line x1="169.5" y1="291.69" x2="171.5" y2="291.69" stroke="#3a3a3a" stroke-width="1"/>
<line x1="167.5" y1="280.33" x2="171.5" y2="280.33" stroke="#3a3a3a" stroke-width="1"/>
<text x="165" y="282.73" text-anchor="end" font-size="8.5" fill="#444" stroke="#444" stroke-width="0.12">3.5</text>
<line x1="169.5" y1="268.96" x2="171.5" y2="268.96" stroke="#3a3a3a" stroke-width="1"/>
<line x1="167.5" y1="257.6" x2="171.5" y2="257.6" stroke="#3a3a3a" stroke-width="1"/>
<text x="165" y="260" text-anchor="end" font-size="8.5" fill="#444" stroke="#444" stroke-width="0.12">4.0</text>
<line x1="171.5" y1="439.4" x2="171.5" y2="442.9" stroke="#3a3a3a" stroke-width="1"/>
<text x="171.5" y="451.7" text-anchor="middle" font-size="8.5" fill="#444" stroke="#444" stroke-width="0.12">0</text>
<line x1="184.02" y1="439.4" x2="184.02" y2="441.4" stroke="#3a3a3a" stroke-width="1"/>
<line x1="196.53" y1="439.4" x2="196.53" y2="442.9" stroke="#3a3a3a" stroke-width="1"/>
<text x="196.53" y="451.7" text-anchor="middle" font-size="8.5" fill="#444" stroke="#444" stroke-width="0.12">40</text>
<line x1="209.05" y1="439.4" x2="209.05" y2="441.4" stroke="#3a3a3a" stroke-width="1"/>
<line x1="221.57" y1="439.4" x2="221.57" y2="442.9" stroke="#3a3a3a" stroke-width="1"/>
<text x="221.57" y="451.7" text-anchor="middle" font-size="8.5" fill="#444" stroke="#444" stroke-width="0.12">80</text>
<line x1="234.08" y1="439.4" x2="234.08" y2="441.4" stroke="#3a3a3a" stroke-width="1"/>
<line x1="246.6" y1="439.4" x2="246.6" y2="442.9" stroke="#3a3a3a" stroke-width="1"/>
<text x="246.6" y="451.7" text-anchor="middle" font-size="8.5" fill="#444" stroke="#444" stroke-width="0.12">120</text>
<line x1="259.12" y1="439.4" x2="259.12" y2="441.4" stroke="#3a3a3a" stroke-width="1"/>
<line x1="271.63" y1="439.4" x2="271.63" y2="442.9" stroke="#3a3a3a" stroke-width="1"/>
<text x="271.63" y="451.7" text-anchor="middle" font-size="8.5" fill="#444" stroke="#444" stroke-width="0.12">160</text>
<line x1="284.15" y1="439.4" x2="284.15" y2="441.4" stroke="#3a3a3a" stroke-width="1"/>
<line x1="296.67" y1="439.4" x2="296.67" y2="442.9" stroke="#3a3a3a" stroke-width="1"/>
<text x="296.67" y="451.7" text-anchor="middle" font-size="8.5" fill="#444" stroke="#444" stroke-width="0.12">200</text>
<line x1="309.18" y1="439.4" x2="309.18" y2="441.4" stroke="#3a3a3a" stroke-width="1"/>
<line x1="321.7" y1="439.4" x2="321.7" y2="442.9" stroke="#3a3a3a" stroke-width="1"/>
<text x="321.7" y="451.7" text-anchor="middle" font-size="8.5" fill="#444" stroke="#444" stroke-width="0.12">240</text>
<line x1="334.22" y1="439.4" x2="334.22" y2="441.4" stroke="#3a3a3a" stroke-width="1"/>
<line x1="346.73" y1="439.4" x2="346.73" y2="442.9" stroke="#3a3a3a" stroke-width="1"/>
<text x="346.73" y="451.7" text-anchor="middle" font-size="8.5" fill="#444" stroke="#444" stroke-width="0.12">280</text>
<line x1="359.25" y1="439.4" x2="359.25" y2="441.4" stroke="#3a3a3a" stroke-width="1"/>
<line x1="371.77" y1="439.4" x2="371.77" y2="442.9" stroke="#3a3a3a" stroke-width="1"/>
<text x="371.77" y="451.7" text-anchor="middle" font-size="8.5" fill="#444" stroke="#444" stroke-width="0.12">320</text>
<line x1="384.28" y1="439.4" x2="384.28" y2="441.4" stroke="#3a3a3a" stroke-width="1"/>
<line x1="396.8" y1="439.4" x2="396.8" y2="442.9" stroke="#3a3a3a" stroke-width="1"/>
<text x="396.8" y="451.7" text-anchor="middle" font-size="8.5" fill="#444" stroke="#444" stroke-width="0.12">360</text>
<text x="153" y="351.8" text-anchor="middle" font-size="8.6" fill="#444" stroke="#444" stroke-width="0.2" textLength="71.4" lengthAdjust="spacingAndGlyphs" transform="rotate(-90 153 351.8)">Oil production, (ml)</text>
<text x="259.1" y="461.5" font-size="8.6" fill="#444" stroke="#444" stroke-width="0.2" textLength="49.9" lengthAdjust="spacingAndGlyphs">Time, (Hours)</text>
<clipPath id="cc"><rect x="171.5" y="251.6" width="225.3" height="187.8"/></clipPath>
<g clip-path="url(#cc)">
<path d="M171.5,439.4L172.13,430.31M172.13,430.31L172.75,421.22M172.75,421.22L173.38,414.4M173.38,414.4L175.25,403.04M175.25,403.04L176.51,393.95M176.51,393.95L186.52,325.77M186.52,325.77L216.56,303.05M216.56,303.05L231.58,303.05M231.58,303.05L246.6,303.05M246.6,303.05L261.62,303.05M261.62,303.05L276.64,303.05M276.64,303.05L291.66,298.5M291.66,298.5L306.68,298.5M306.68,298.5L321.7,298.5M321.7,298.5L336.72,298.5M336.72,298.5L351.74,298.5M351.74,298.5L366.76,298.5M366.76,298.5L381.78,298.5M381.78,298.5L396.8,298.5" fill="none" stroke="#111" stroke-width="1.7" stroke-dasharray="9,6"/>
<circle cx="171.5" cy="439.4" r="2" fill="#111" stroke="#111" stroke-width="0.8"/>
<circle cx="172.13" cy="430.31" r="2" fill="#111" stroke="#111" stroke-width="0.8"/>
<circle cx="172.75" cy="421.22" r="2" fill="#111" stroke="#111" stroke-width="0.8"/>
<circle cx="173.38" cy="414.4" r="2" fill="#111" stroke="#111" stroke-width="0.8"/>
<circle cx="175.25" cy="403.04" r="2" fill="#111" stroke="#111" stroke-width="0.8"/>
<circle cx="176.51" cy="393.95" r="2" fill="#111" stroke="#111" stroke-width="0.8"/>
<circle cx="186.52" cy="325.77" r="2" fill="#111" stroke="#111" stroke-width="0.8"/>
<circle cx="216.56" cy="303.05" r="2" fill="#111" stroke="#111" stroke-width="0.8"/>
<circle cx="231.58" cy="303.05" r="2" fill="#111" stroke="#111" stroke-width="0.8"/>
<circle cx="246.6" cy="303.05" r="2" fill="#111" stroke="#111" stroke-width="0.8"/>
<circle cx="261.62" cy="303.05" r="2" fill="#111" stroke="#111" stroke-width="0.8"/>
<circle cx="276.64" cy="303.05" r="2" fill="#111" stroke="#111" stroke-width="0.8"/>
<circle cx="291.66" cy="298.5" r="2" fill="#111" stroke="#111" stroke-width="0.8"/>
<circle cx="306.68" cy="298.5" r="2" fill="#111" stroke="#111" stroke-width="0.8"/>
<circle cx="321.7" cy="298.5" r="2" fill="#111" stroke="#111" stroke-width="0.8"/>
<circle cx="336.72" cy="298.5" r="2" fill="#111" stroke="#111" stroke-width="0.8"/>
<circle cx="351.74" cy="298.5" r="2" fill="#111" stroke="#111" stroke-width="0.8"/>
<circle cx="366.76" cy="298.5" r="2" fill="#111" stroke="#111" stroke-width="0.8"/>
<circle cx="381.78" cy="298.5" r="2" fill="#111" stroke="#111" stroke-width="0.8"/>
<circle cx="396.8" cy="298.5" r="2" fill="#111" stroke="#111" stroke-width="0.8"/>
<path d="M171.5,439.4L172.13,421.22M172.13,421.22L172.75,398.5M172.75,398.5L173.38,384.86M173.38,384.86L174.63,371.23M174.63,371.23L175.25,366.68M175.25,366.68L175.88,348.5M175.88,348.5L176.51,330.32M176.51,330.32L186.52,313.5M186.52,313.5L201.54,312.14M201.54,312.14L216.56,307.6M216.56,307.6L231.58,307.6M231.58,307.6L246.6,307.6M246.6,307.6L261.62,307.6M261.62,307.6L276.64,307.6M276.64,307.6L291.66,307.6M291.66,307.6L306.68,307.6M306.68,307.6L321.7,307.6M321.7,307.6L336.72,307.6M336.72,307.6L351.74,307.6M351.74,307.6L366.76,307.6M366.76,307.6L381.78,307.6M381.78,307.6L396.8,307.6" fill="none" stroke="#1f7f1f" stroke-width="1.5" stroke-dasharray="9,6"/>
<circle cx="171.5" cy="439.4" r="1.8" fill="#158815" stroke="#158815" stroke-width="0.8"/>
<circle cx="172.13" cy="421.22" r="1.8" fill="#158815" stroke="#158815" stroke-width="0.8"/>
<circle cx="172.75" cy="398.5" r="1.8" fill="#158815" stroke="#158815" stroke-width="0.8"/>
<circle cx="173.38" cy="384.86" r="1.8" fill="#158815" stroke="#158815" stroke-width="0.8"/>
<circle cx="174.63" cy="371.23" r="1.8" fill="#158815" stroke="#158815" stroke-width="0.8"/>
<circle cx="175.25" cy="366.68" r="1.8" fill="#158815" stroke="#158815" stroke-width="0.8"/>
<circle cx="175.88" cy="348.5" r="1.8" fill="#158815" stroke="#158815" stroke-width="0.8"/>
<circle cx="176.51" cy="330.32" r="1.8" fill="#158815" stroke="#158815" stroke-width="0.8"/>
<circle cx="186.52" cy="313.5" r="1.8" fill="#158815" stroke="#158815" stroke-width="0.8"/>
<circle cx="201.54" cy="312.14" r="1.8" fill="#158815" stroke="#158815" stroke-width="0.8"/>
<circle cx="216.56" cy="307.6" r="1.8" fill="#158815" stroke="#158815" stroke-width="0.8"/>
<circle cx="231.58" cy="307.6" r="1.8" fill="#158815" stroke="#158815" stroke-width="0.8"/>
<circle cx="246.6" cy="307.6" r="1.8" fill="#158815" stroke="#158815" stroke-width="0.8"/>
<circle cx="261.62" cy="307.6" r="1.8" fill="#158815" stroke="#158815" stroke-width="0.8"/>
<circle cx="276.64" cy="307.6" r="1.8" fill="#158815" stroke="#158815" stroke-width="0.8"/>
<circle cx="291.66" cy="307.6" r="1.8" fill="#158815" stroke="#158815" stroke-width="0.8"/>
<circle cx="306.68" cy="307.6" r="1.8" fill="#158815" stroke="#158815" stroke-width="0.8"/>
<circle cx="321.7" cy="307.6" r="1.8" fill="#158815" stroke="#158815" stroke-width="0.8"/>
<circle cx="336.72" cy="307.6" r="1.8" fill="#158815" stroke="#158815" stroke-width="0.8"/>
<circle cx="351.74" cy="307.6" r="1.8" fill="#158815" stroke="#158815" stroke-width="0.8"/>
<circle cx="366.76" cy="307.6" r="1.8" fill="#158815" stroke="#158815" stroke-width="0.8"/>
<circle cx="381.78" cy="307.6" r="1.8" fill="#158815" stroke="#158815" stroke-width="0.8"/>
<circle cx="396.8" cy="307.6" r="1.8" fill="#158815" stroke="#158815" stroke-width="0.8"/>
<path d="M171.5,439.4L172.13,412.13M172.13,412.13L172.75,375.77M172.75,375.77L173.38,348.5M173.38,348.5L174,334.87M174,334.87L174.63,325.77M174.63,325.77L175.25,318.05M175.25,318.05L176.51,312.14M176.51,312.14L186.52,312.14M186.52,312.14L201.54,307.6M201.54,307.6L216.56,307.6M216.56,307.6L231.58,303.05M231.58,303.05L246.6,303.05M246.6,303.05L261.62,303.05M261.62,303.05L276.64,293.96M276.64,293.96L291.66,293.96M291.66,293.96L306.68,293.96M306.68,293.96L321.7,293.96M321.7,293.96L336.72,293.96M336.72,293.96L351.74,293.96M351.74,293.96L366.76,293.96M366.76,293.96L381.78,293.96M381.78,293.96L396.8,293.96" fill="none" stroke="#9a9a9a" stroke-width="1.2" stroke-dasharray="10,5"/>
<circle cx="171.5" cy="439.4" r="1.6" fill="#fff" stroke="#8a8a8a" stroke-width="0.8"/>
<circle cx="172.13" cy="412.13" r="1.6" fill="#fff" stroke="#8a8a8a" stroke-width="0.8"/>
<circle cx="172.75" cy="375.77" r="1.6" fill="#fff" stroke="#8a8a8a" stroke-width="0.8"/>
<circle cx="173.38" cy="348.5" r="1.6" fill="#fff" stroke="#8a8a8a" stroke-width="0.8"/>
<circle cx="174" cy="334.87" r="1.6" fill="#fff" stroke="#8a8a8a" stroke-width="0.8"/>
<circle cx="174.63" cy="325.77" r="1.6" fill="#fff" stroke="#8a8a8a" stroke-width="0.8"/>
<circle cx="175.25" cy="318.05" r="1.6" fill="#fff" stroke="#8a8a8a" stroke-width="0.8"/>
<circle cx="176.51" cy="312.14" r="1.6" fill="#fff" stroke="#8a8a8a" stroke-width="0.8"/>
<circle cx="186.52" cy="312.14" r="1.6" fill="#fff" stroke="#8a8a8a" stroke-width="0.8"/>
<circle cx="201.54" cy="307.6" r="1.6" fill="#fff" stroke="#8a8a8a" stroke-width="0.8"/>
<circle cx="216.56" cy="307.6" r="1.6" fill="#fff" stroke="#8a8a8a" stroke-width="0.8"/>
<circle cx="231.58" cy="303.05" r="1.6" fill="#fff" stroke="#8a8a8a" stroke-width="0.8"/>
<circle cx="246.6" cy="303.05" r="1.6" fill="#fff" stroke="#8a8a8a" stroke-width="0.8"/>
<circle cx="261.62" cy="303.05" r="1.6" fill="#fff" stroke="#8a8a8a" stroke-width="0.8"/>
<circle cx="276.64" cy="293.96" r="1.6" fill="#fff" stroke="#8a8a8a" stroke-width="0.8"/>
<circle cx="291.66" cy="293.96" r="1.6" fill="#fff" stroke="#8a8a8a" stroke-width="0.8"/>
<circle cx="306.68" cy="293.96" r="1.6" fill="#fff" stroke="#8a8a8a" stroke-width="0.8"/>
<circle cx="321.7" cy="293.96" r="1.6" fill="#fff" stroke="#8a8a8a" stroke-width="0.8"/>
<circle cx="336.72" cy="293.96" r="1.6" fill="#fff" stroke="#8a8a8a" stroke-width="0.8"/>
<circle cx="351.74" cy="293.96" r="1.6" fill="#fff" stroke="#8a8a8a" stroke-width="0.8"/>
<circle cx="366.76" cy="293.96" r="1.6" fill="#fff" stroke="#8a8a8a" stroke-width="0.8"/>
<circle cx="381.78" cy="293.96" r="1.6" fill="#fff" stroke="#8a8a8a" stroke-width="0.8"/>
<circle cx="396.8" cy="293.96" r="1.6" fill="#fff" stroke="#8a8a8a" stroke-width="0.8"/>
<path d="M171.5,439.4L172.13,430.31M172.13,430.31L172.75,421.22M172.75,421.22L173.38,412.13M173.38,412.13L174,403.04M174,403.04L174.63,393.95M174.63,393.95L175.25,384.86M175.25,384.86L176.51,380.31M176.51,380.31L186.52,366.68M186.52,366.68L201.54,366.68M201.54,366.68L216.56,366.68M216.56,366.68L231.58,348.5M231.58,348.5L246.6,348.5M246.6,348.5L261.62,330.32M261.62,330.32L276.64,330.32M276.64,330.32L291.66,321.23M291.66,321.23L306.68,321.23M306.68,321.23L321.7,316.69M321.7,316.69L336.72,316.69M336.72,316.69L351.74,316.69M351.74,316.69L366.76,316.69M366.76,316.69L381.78,316.69M381.78,316.69L396.8,316.69" fill="none" stroke="#2a929c" stroke-width="1.3" stroke-dasharray="10,2.5,1,2.5"/>
<circle cx="171.5" cy="439.4" r="1.6" fill="#eaf6f6" stroke="#2a929c" stroke-width="0.6"/><path d="M169.9,439.4 A1.6,1.6 0 0 1 173.1,439.4 Z" fill="#2a929c"/>
<circle cx="172.13" cy="430.31" r="1.6" fill="#eaf6f6" stroke="#2a929c" stroke-width="0.6"/><path d="M170.53,430.31 A1.6,1.6 0 0 1 173.73,430.31 Z" fill="#2a929c"/>
<circle cx="172.75" cy="421.22" r="1.6" fill="#eaf6f6" stroke="#2a929c" stroke-width="0.6"/><path d="M171.15,421.22 A1.6,1.6 0 0 1 174.35,421.22 Z" fill="#2a929c"/>
<circle cx="173.38" cy="412.13" r="1.6" fill="#eaf6f6" stroke="#2a929c" stroke-width="0.6"/><path d="M171.78,412.13 A1.6,1.6 0 0 1 174.98,412.13 Z" fill="#2a929c"/>
<circle cx="174" cy="403.04" r="1.6" fill="#eaf6f6" stroke="#2a929c" stroke-width="0.6"/><path d="M172.4,403.04 A1.6,1.6 0 0 1 175.6,403.04 Z" fill="#2a929c"/>
<circle cx="174.63" cy="393.95" r="1.6" fill="#eaf6f6" stroke="#2a929c" stroke-width="0.6"/><path d="M173.03,393.95 A1.6,1.6 0 0 1 176.23,393.95 Z" fill="#2a929c"/>
<circle cx="175.25" cy="384.86" r="1.6" fill="#eaf6f6" stroke="#2a929c" stroke-width="0.6"/><path d="M173.66,384.86 A1.6,1.6 0 0 1 176.85,384.86 Z" fill="#2a929c"/>
<circle cx="176.51" cy="380.31" r="1.6" fill="#eaf6f6" stroke="#2a929c" stroke-width="0.6"/><path d="M174.91,380.31 A1.6,1.6 0 0 1 178.11,380.31 Z" fill="#2a929c"/>
<circle cx="186.52" cy="366.68" r="1.6" fill="#eaf6f6" stroke="#2a929c" stroke-width="0.6"/><path d="M184.92,366.68 A1.6,1.6 0 0 1 188.12,366.68 Z" fill="#2a929c"/>
<circle cx="201.54" cy="366.68" r="1.6" fill="#eaf6f6" stroke="#2a929c" stroke-width="0.6"/><path d="M199.94,366.68 A1.6,1.6 0 0 1 203.14,366.68 Z" fill="#2a929c"/>
<circle cx="216.56" cy="366.68" r="1.6" fill="#eaf6f6" stroke="#2a929c" stroke-width="0.6"/><path d="M214.96,366.68 A1.6,1.6 0 0 1 218.16,366.68 Z" fill="#2a929c"/>
<circle cx="231.58" cy="348.5" r="1.6" fill="#eaf6f6" stroke="#2a929c" stroke-width="0.6"/><path d="M229.98,348.5 A1.6,1.6 0 0 1 233.18,348.5 Z" fill="#2a929c"/>
<circle cx="246.6" cy="348.5" r="1.6" fill="#eaf6f6" stroke="#2a929c" stroke-width="0.6"/><path d="M245,348.5 A1.6,1.6 0 0 1 248.2,348.5 Z" fill="#2a929c"/>
<circle cx="261.62" cy="330.32" r="1.6" fill="#eaf6f6" stroke="#2a929c" stroke-width="0.6"/><path d="M260.02,330.32 A1.6,1.6 0 0 1 263.22,330.32 Z" fill="#2a929c"/>
<circle cx="276.64" cy="330.32" r="1.6" fill="#eaf6f6" stroke="#2a929c" stroke-width="0.6"/><path d="M275.04,330.32 A1.6,1.6 0 0 1 278.24,330.32 Z" fill="#2a929c"/>
<circle cx="291.66" cy="321.23" r="1.6" fill="#eaf6f6" stroke="#2a929c" stroke-width="0.6"/><path d="M290.06,321.23 A1.6,1.6 0 0 1 293.26,321.23 Z" fill="#2a929c"/>
<circle cx="306.68" cy="321.23" r="1.6" fill="#eaf6f6" stroke="#2a929c" stroke-width="0.6"/><path d="M305.08,321.23 A1.6,1.6 0 0 1 308.28,321.23 Z" fill="#2a929c"/>
<circle cx="321.7" cy="316.69" r="1.6" fill="#eaf6f6" stroke="#2a929c" stroke-width="0.6"/><path d="M320.1,316.69 A1.6,1.6 0 0 1 323.3,316.69 Z" fill="#2a929c"/>
<circle cx="336.72" cy="316.69" r="1.6" fill="#eaf6f6" stroke="#2a929c" stroke-width="0.6"/><path d="M335.12,316.69 A1.6,1.6 0 0 1 338.32,316.69 Z" fill="#2a929c"/>
<circle cx="351.74" cy="316.69" r="1.6" fill="#eaf6f6" stroke="#2a929c" stroke-width="0.6"/><path d="M350.14,316.69 A1.6,1.6 0 0 1 353.34,316.69 Z" fill="#2a929c"/>
<circle cx="366.76" cy="316.69" r="1.6" fill="#eaf6f6" stroke="#2a929c" stroke-width="0.6"/><path d="M365.16,316.69 A1.6,1.6 0 0 1 368.36,316.69 Z" fill="#2a929c"/>
<circle cx="381.78" cy="316.69" r="1.6" fill="#eaf6f6" stroke="#2a929c" stroke-width="0.6"/><path d="M380.18,316.69 A1.6,1.6 0 0 1 383.38,316.69 Z" fill="#2a929c"/>
<circle cx="396.8" cy="316.69" r="1.6" fill="#eaf6f6" stroke="#2a929c" stroke-width="0.6"/><path d="M395.2,316.69 A1.6,1.6 0 0 1 398.4,316.69 Z" fill="#2a929c"/>
</g>
<rect x="284.4" y="389.5" width="63.9" height="9.5" fill="#fff" stroke="#b0b0b0" stroke-width="1"/>
<text x="285.8" y="396.6" font-size="7.4" fill="#222" stroke="#222" stroke-width="0.15" textLength="61.2" lengthAdjust="spacingAndGlyphs">Flooded sample: NF5</text>
<rect x="243.4" y="400.5" width="153.1" height="36.4" fill="#fff" stroke="#b0b0b0" stroke-width="1"/>
<line x1="243.9" y1="405.7" x2="261.1" y2="405.7" stroke="#2a929c" stroke-width="1.3"/>
<circle cx="252.5" cy="405.7" r="1.7" fill="#eaf6f6" stroke="#2a929c" stroke-width="0.6"/><path d="M250.8,405.7 A1.7,1.7 0 0 1 254.2,405.7 Z" fill="#2a929c"/>
<text x="262" y="408" font-size="7.3" fill="#333" stroke="#333" stroke-width="0.18" textLength="108.2" lengthAdjust="spacingAndGlyphs">Core B9-26: Secondary flood→ SI test</text>
<line x1="243.9" y1="414.6" x2="261.1" y2="414.6" stroke="#8a8a8a" stroke-width="1.2"/>
<circle cx="252.5" cy="414.6" r="1.7" fill="#fff" stroke="#8a8a8a" stroke-width="0.8"/>
<text x="262" y="416.9" font-size="7.3" fill="#333" stroke="#333" stroke-width="0.18" textLength="133.4" lengthAdjust="spacingAndGlyphs">Core B9-25: Secondary flood→soaked→SI test</text>
<line x1="243.9" y1="423.4" x2="261.1" y2="423.4" stroke="#158815" stroke-width="1.4"/>
<circle cx="252.5" cy="423.4" r="2.1" fill="#158815" stroke="#158815" stroke-width="0.8"/>
<text x="262" y="425.7" font-size="7.3" fill="#333" stroke="#333" stroke-width="0.18" textLength="100" lengthAdjust="spacingAndGlyphs">Core B9-42: Tertiary flood→SI test</text>
<line x1="243.9" y1="432.2" x2="261.1" y2="432.2" stroke="#111" stroke-width="1.5"/>
<circle cx="252.5" cy="432.2" r="2.1" fill="#111" stroke="#111" stroke-width="0.8"/>
<text x="262" y="434.5" font-size="7.3" fill="#333" stroke="#333" stroke-width="0.18" textLength="126" lengthAdjust="spacingAndGlyphs">Core B9-41: Tertiary flood→soaked→SI test</text>
<text x="268.8" y="481.6" font-size="13.5" fill="#111" textLength="13.8" lengthAdjust="spacingAndGlyphs">(<tspan font-weight="bold">c</tspan>)</text>
</svg></body></html>
